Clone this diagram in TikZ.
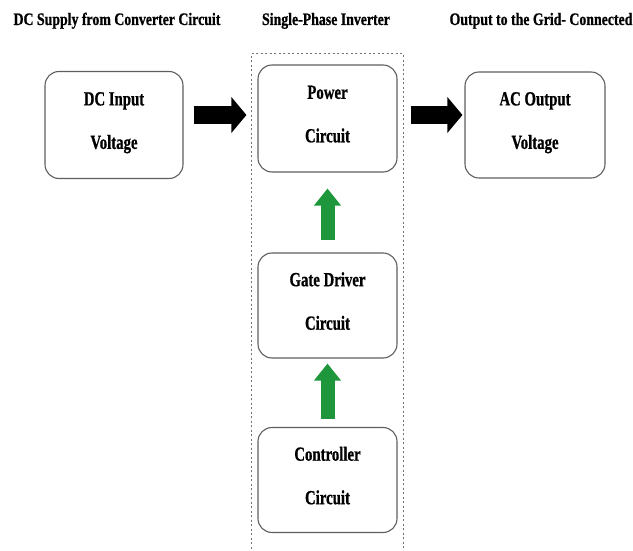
\documentclass[tikz,border=0pt]{standalone}
\usepackage{fontspec}
\setmainfont{Liberation Serif}
\newfontfamily\titlefont[FakeStretch=0.79,FakeBold=0.8]{Liberation Serif}
\newfontfamily\boxfont[FakeStretch=0.74,FakeBold=0.8]{Liberation Serif}
\usetikzlibrary{arrows.meta,calc}
\definecolor{arrowgreen}{RGB}{30,150,60}
\definecolor{boxline}{RGB}{95,95,95}
\tikzset{
  blockbox/.style={draw=boxline, line width=1.1pt, rounded corners=14pt, fill=white,
    align=center, inner sep=0pt, text=black, text depth=9pt,
    font=\boxfont\bfseries\fontsize{20}{43.5}\selectfont},
  titletext/.style={anchor=base, inner sep=0pt, text=black,
    font=\titlefont\bfseries\fontsize{17.5}{20}\selectfont},
  fatblack/.style={draw=black, line width=18pt, -{Triangle[length=15pt,width=35pt]}},
  fatgreen/.style={draw=arrowgreen, line width=14pt, -{Triangle[length=17pt,width=26pt]}},
  groupline/.style={draw=gray!90!black, line width=1pt, dash pattern=on 2pt off 2.5pt}
}
\begin{document}
\begin{tikzpicture}[x=1pt,y=-1pt]
\useasboundingbox (0,0) rectangle (633,551);
% titles
\node[titletext] (t1) at (117,25) {DC Supply from Converter Circuit};
\node[titletext] (t2) at (326,25) {Single-Phase Inverter};
\node[titletext] (t3) at (541,25) {Output to the Grid- Connected};
% dashed group outline
\coordinate (gbl) at (251,553);
\coordinate (gtl) at (251,54);
\coordinate (gtr) at (403,54);
\coordinate (gbr) at (403,553);
\draw[groupline] (gbl) -- (gtl) -- (gtr) -- (gbr);
% boxes
\node[blockbox, minimum width=138pt, minimum height=107pt] (dc) at (114,125) {DC Input\\Voltage};
\node[blockbox, minimum width=139pt, minimum height=107pt] (pc) at (327.5,118.5) {Power\\Circuit};
\node[blockbox, minimum width=140pt, minimum height=106pt] (ac) at (535,125) {AC Output\\Voltage};
\node[blockbox, minimum width=139pt, minimum height=105pt] (gd) at (327.5,305.5) {Gate Driver\\Circuit};
\node[blockbox, minimum width=139pt, minimum height=105pt] (cc) at (327.5,480) {Controller\\Circuit};
% arrows
\draw[fatblack] ($(dc.east)+(10,-10)$) -- ($(pc.west)+(-11,-3.5)$);
\draw[fatblack] ($(pc.east)+(13,-3.5)$) -- ($(ac.west)+(-2,-10)$);
\draw[fatgreen] ($(gd.north)+(0,-12)$) -- ($(pc.south)+(0,16)$);
\draw[fatgreen] ($(cc.north)+(0,-8)$) -- ($(gd.south)+(0,5)$);
\end{tikzpicture}
\end{document}
